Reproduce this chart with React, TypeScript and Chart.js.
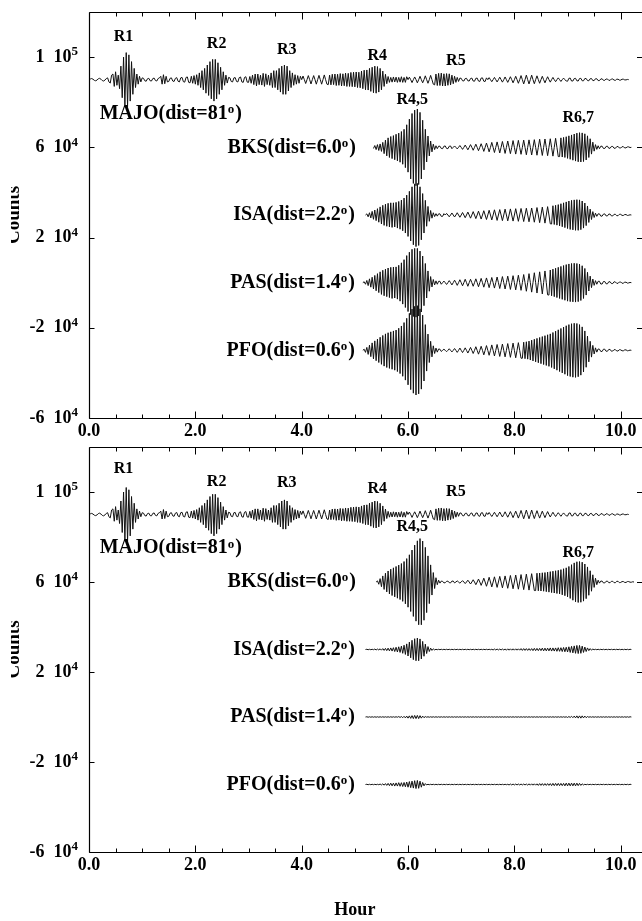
import React, { useEffect, useRef } from "react";
import { Chart, registerables } from "chart.js";
import type { Plugin, ChartConfiguration } from "chart.js";

Chart.register(...registerables);

// ---------- axes ----------
const SAMPLE_STEP_H = 0.025; // hours between samples
const X_MIN = 0;
const X_MAX = 10.4;
const Y_MIN = -60000;
const Y_MAX = 120000;
const X_TICKS = [0, 2, 4, 6, 8, 10];
const Y_TICKS = [-60000, -20000, 20000, 60000, 100000];
const Y_TICK_MANT = ["-6", "-2", "2", "6", "1"];
const Y_TICK_EXP = ["4", "4", "4", "4", "5"];

// ---------- stations ----------
const STATIONS = ["MAJO", "BKS", "ISA", "PAS", "PFO"];
const DISTANCES = ["81", "6.0", "2.2", "1.4", "0.6"];
const BASELINES = [90000, 60000, 30000, 0, -30000]; // counts
const STATION_LABEL_X = [0.2, 5.02, 5.0, 5.0, 5.0]; // hours
const STATION_LABEL_Y = [75000, 60000, 30000, 0, -30000]; // counts

// ---------- phase labels ----------
const PHASES = ["R1", "R2", "R3", "R4", "R5", "R4,5", "R6,7"];
const PHASE_X = [0.65, 2.4, 3.72, 5.42, 6.9, 6.08, 9.2];
const PHASE_Y_TOP = [109000, 106000, 103000, 100500, 98500, 81000, 73000];
const PHASE_Y_BOTTOM = [110500, 104500, 104000, 101300, 100000, 84500, 73000];

// ---------- traces (thousand counts around each baseline, one row = 0.5 h) ----------
const MAJO_START = 0;
const MAJO = [
  0, 0.3, 0.5, 0.2, -0.3, -0.5, -0.2, 0.4, 0.6, 0.2, -0.4, -0.6, -0.2, 0.5, 0.8, -1, -1.5, 2, 2.5, -3,
  3.5, -2.5, 2, -4, 6, -8, 10, -11.5, 12, -12, 11, -9.5, 8, -6.5, 5, -3.5, 2.5, -2, 1.5, -1,
  0.8, 0.6, -0.5, -0.7, 0.4, 0.6, -0.5, -0.6, 0.5, 0.7, -0.4, -0.6, 0.5, 0.8, 1.5, -2, 2.2, -1.8, 1.5, -1,
  -0.8, 0.6, 0.8, -0.6, -0.8, 0.6, 0.9, -0.7, -1, 0.8, 1, -0.9, -1.1, 1, 1.2, -1.2, -1.4, 1.5, -1.6, 1.8,
  -2, 2.2, -2.5, 3, -3.5, 4, -4.5, 5, -6, 6.5, -7, 8, -8.5, 9, -9.5, 9, -8.5, 7.5, -6.5, 5.5,
  -4.5, 3.5, -2.5, 2, -1.5, 1, 0.8, -0.8, -1, 0.8, 0.9, -0.8, -1, 0.9, 1.2, -1, -1.2, 1, 1.3, -1.1,
  -1.2, 1.4, -1.6, 2, -2.2, 2.5, -2.8, 2.5, -2.2, 2, -2.4, 2.8, -3, 2.6, -2.2, 2, -2.5, 3, -3.5, 4,
  -3.5, 4, -4.5, 5, -5.5, 6, -6.5, 6.5, -6.5, 6, -5, 4, -3.5, 3, -2.5, 2.2, -2, 1.8, -1.6, 1.5,
  0, 1.6, 0, -1.7, 0, 1.8, 0, -1.9, 0, 1.8, 0, -2, 0, 1.9, 0, -2, 0, 2.1, 0, -2,
  -2.2, 2, -2.3, 2.4, -2.2, 2.5, -2.6, 2.4, -2.5, 2.7, -2.8, 2.6, -2.7, 2.9, -3, 2.8, -3, 3.2, -3.1, 3.3,
  -3.2, 3.4, -3.5, 3.3, -3.6, 3.8, -4, 4.2, -4.5, 4.3, -4.6, 5, -5.2, 5.5, -5.8, 6, -6, 5.8, -5.5, 5,
  -4.5, 3.8, -3, 2.4, -1.8, 1.4, -1.2, 1, -1.1, 1.2, -1, 1.1, -1.2, 1, -1.1, 1.3, -1.2, 1, -1.2, 1.3,
  0, 1.1, 0, -1.3, 0, 1.2, 0, -1.4, 0, 1.5, 0, -1.4, 0, 1.7, 0, -1.6, 0, 1.9, 0, -2,
  -2.3, 2.5, -2.6, 2.8, -2.6, 2.9, -2.8, 2.6, -2.8, 2.7, -2.5, 2.6, -2.3, 2, -1.8, 1.5, -1.2, 1, -0.8, 0.7,
  0.6, -0.5, -0.6, 0.5, 0.6, -0.5, -0.6, 0.5, 0.7, -0.6, -0.7, 0.6, 0.7, -0.6, -0.8, 0.7, 0.8, -0.7, -0.8, 0.8,
  0, 0.9, 0, -0.9, 0, 1, 0, -1, 0, 1.1, 0, -1.1, 0, 1.2, 0, -1.2, 0, 1.3, 0, -1.4,
  0, 1.5, 0, -1.6, 0, 1.8, 0, -1.9, 0, 2, 0, -1.9, 0, 2, 0, -1.8, 0, 1.7, 0, -1.6,
  0, 1.5, 0, -1.4, 0, 1.3, 0, -1.1, 0, 1, 0, -0.9, 0, 0.8, 0, -0.8, 0, 0.7, 0, -0.6,
  -0.7, 0.6, 0.7, -0.6, -0.6, 0.5, 0.6, -0.5, -0.6, 0.5, 0.6, -0.5, -0.5, 0.5, 0.5, -0.4, -0.5, 0.4, 0.5, -0.4,
  -0.4, 0.4, 0.4, -0.4, -0.4, 0.3, 0.4, -0.3, -0.3, 0.3, 0.3, -0.3, -0.3, 0.3, 0.3, -0.2, -0.3, 0.2, 0.2, -0.2,
  -0.2, 0.2, 0.2, -0.1, -0.1, 0.1, 0,
];

const BKS_TOP_START = 5.35;
const BKS_TOP = [
  -0.5, 0.8, -1, 1.2, -1.4, 1.5, -1.8, 2.2, -2.8, 3.2, -3.8, 4.2, -4.5, 4.8, -5, 5.2, -5.5, 5.8, -6, 6.3,
  -6.6, 7, -7.5, 8, -9, 10, -11, 12.5, -14, 15, -16, 16.5, -17, 17, -16.5, 15.5, -14, 12, -10, 8,
  -6.5, 5, -3.8, 2.8, -2, 1.4, -1, 0.7, -0.6, 0.5, 0.5, -0.5, -0.6, 0.5, 0.6, -0.5, -0.6, 0.5, 0.6, -0.6,
  0, 0.6, 0, -0.7, 0, 0.8, 0, -0.9, 0, 1, 0, -1.1, 0, 1.2, 0, -1.3, 0, 1.4, 0, -1.5,
  0, 1.6, 0, -1.8, 0, 1.9, 0, -2, 0, 2.2, 0, -2.3, 0, 2.4, 0, -2.5, 0, 2.6, 0, -2.7,
  0, 2.8, 0, -2.8, 0, 3, 0, -3, 0, 3.1, 0, -3.1, 0, 3.2, 0, -3.3, 0, 3.3, 0, -3.4,
  0, 3.4, 0, -3.5, 0, 3.6, 0, -3.6, 0, 3.7, 0, -3.7, 0, 3.8, 0, -3.9, 0, 4, 0, -4.1,
  -4.1, 4.2, -4.3, 4.4, -4.5, 4.7, -4.9, 5.1, -5.3, 5.5, -5.7, 5.9, -6.1, 6.3, -6.4, 6.5, -6.5, 6.4, -6.3, 6,
  -5.6, 5.1, -4.5, 3.8, -3, 2.3, -1.7, 1.2, -0.9, 0.7, -0.6, 0.5, 0.5, -0.5, -0.5, 0.4, 0.5, -0.4, -0.4, 0.4,
  0.4, -0.4, -0.4, 0.3, 0.4, -0.3, -0.3, 0.3, 0.3, -0.3, -0.2, 0.2, 0.2, -0.1, 0,
];

const ISA_TOP_START = 5.2;
const ISA_TOP = [
  0, 0.5, -0.8, 1, -1.3, 1.6, -1.9, 2.2, -2.5, 2.8, -3.2, 3.6, -4, 4.3, -4.6, 4.8, -5, 5.2, -5.3, 5.4,
  -5.5, 5.4, -5.3, 5.6, -5.8, 6, -6.3, 6.6, -7, 7.5, -8, 8.8, -9.5, 10.5, -11.5, 12.5, -13.2, 13.8, -14, 14,
  -13.5, 12.5, -11, 9.5, -8, 6.5, -5, 3.8, -2.8, 2, -1.4, 1, -0.7, 0.6, -0.5, 0.5, 0.5, -0.6, -0.6, 0.6,
  0, 0.7, 0, -0.8, 0, 0.9, 0, -0.9, 0, 1, 0, -1, 0, 1.1, 0, -1.2, 0, 1.3, 0, -1.4,
  0, 1.5, 0, -1.6, 0, 1.7, 0, -1.8, 0, 1.9, 0, -2, 0, 2.1, 0, -2.2, 0, 2.3, 0, -2.4,
  0, 2.4, 0, -2.5, 0, 2.6, 0, -2.6, 0, 2.7, 0, -2.7, 0, 2.8, 0, -2.8, 0, 2.9, 0, -2.9,
  0, 3, 0, -3, 0, 3.1, 0, -3.2, 0, 3.3, 0, -3.4, 0, 3.5, 0, -3.6, 0, 3.7, 0, -3.9,
  -4, 4.1, -4.2, 4.3, -4.5, 4.6, -4.8, 5, -5.2, 5.4, -5.6, 5.8, -6, 6.2, -6.4, 6.5, -6.6, 6.7, -6.8, 6.8,
  -6.8, 6.7, -6.5, 6.2, -5.8, 5.3, -4.7, 4, -3.3, 2.6, -2, 1.5, -1.1, 0.8, -0.6, 0.5, 0.5, -0.5, -0.5, 0.4,
  0.5, -0.4, -0.4, 0.4, 0.4, -0.4, -0.4, 0.3, 0.3, -0.3, -0.3, 0.3, 0.3, -0.2, -0.2, 0.2, 0.2, -0.2, -0.1, 0.1,
  0,
];

const PAS_TOP_START = 5.15;
const PAS_TOP = [
  0, 0.4, -0.7, 1, -1.3, 1.7, -2, 2.4, -2.8, 3.2, -3.6, 4, -4.4, 4.8, -5.2, 5.5, -5.8, 6, -6.2, 6.5,
  -6.6, 6.8, -7, 6.9, -6.8, 7, -7.3, 7.7, -8.2, 8.8, -9.5, 10.2, -11, 12, -12.8, 13.5, -14.2, 14.8, -15, 15.2,
  -15.3, 15.2, -14.8, 14, -13, 11.8, -10.2, 8.5, -6.8, 5.2, -3.8, 2.7, -1.9, 1.4, -1, 0.8, -0.7, 0.6, 0.6, -0.7,
  0, 0.7, 0, -0.8, 0, 0.9, 0, -1, 0, 1.1, 0, -1.2, 0, 1.3, 0, -1.4, 0, 1.5, 0, -1.6,
  0, 1.5, 0, -1.6, 0, 1.7, 0, -1.8, 0, 1.9, 0, -2, 0, 2.1, 0, -2.2, 0, 2.3, 0, -2.4,
  0, 2.5, 0, -2.6, 0, 2.7, 0, -2.8, 0, 2.9, 0, -3, 0, 3.1, 0, -3.2, 0, 3.3, 0, -3.4,
  0, 3.6, 0, -3.8, 0, 4, 0, -4.2, 0, 4.4, 0, -4.6, 0, 4.8, 0, -5, 0, 5.2, 0, -5.4,
  -5.5, 5.6, -5.8, 6, -6.2, 6.4, -6.6, 6.8, -7, 7.2, -7.4, 7.6, -7.8, 8, -8.2, 8.3, -8.4, 8.5, -8.5, 8.6,
  -8.6, 8.5, -8.4, 8.2, -7.9, 7.5, -7, 6.3, -5.5, 4.6, -3.7, 2.9, -2.2, 1.6, -1.2, 0.9, -0.7, 0.6, 0.6, -0.6,
  -0.6, 0.5, 0.5, -0.5, -0.5, 0.4, 0.4, -0.4, -0.4, 0.4, 0.3, -0.3, -0.3, 0.3, 0.3, -0.3, -0.2, 0.2, 0.2, -0.2,
  -0.1, 0.1, 0,
];

const PFO_TOP_START = 5.15;
const PFO_TOP = [
  0, 0.5, -0.9, 1.3, -1.8, 2.3, -2.8, 3.3, -3.8, 4.2, -4.6, 5, -5.4, 5.8, -6.2, 6.6, -7, 7.3, -7.6, 7.8,
  -8, 8.2, -8.4, 8.6, -8.8, 9, -9.4, 9.8, -10.3, 10.8, -11.5, 12.3, -13.2, 14.2, -15.3, 16.4, -17.4, 18.3, -19, 19.5,
  -19.8, 19.8, -19.3, 18.4, -17.2, 15.6, -13.6, 11.4, -9.2, 7.2, -5.4, 4, -2.9, 2, -1.4, 1, -0.8, 0.6, 0.5, -0.5,
  0, 0.5, 0, -0.6, 0, 0.7, 0, -0.7, 0, 0.8, 0, -0.9, 0, 1, 0, -1, 0, 1.1, 0, -1.2,
  0, 1.3, 0, -1.4, 0, 1.6, 0, -1.7, 0, 1.8, 0, -2, 0, 2.1, 0, -2.2, 0, 2.4, 0, -2.5,
  0, 2.6, 0, -2.7, 0, 2.8, 0, -2.9, 0, 3, 0, -3.1, 0, 3.2, 0, -3.3, 0, 3.4, 0, -3.5,
  -3.5, 3.6, -3.7, 3.8, -3.9, 4.1, -4.3, 4.5, -4.7, 4.9, -5.1, 5.3, -5.5, 5.7, -5.9, 6.1, -6.3, 6.5, -6.7, 6.9,
  -7.1, 7.3, -7.6, 7.9, -8.2, 8.5, -8.8, 9.1, -9.4, 9.7, -10, 10.3, -10.6, 10.9, -11.2, 11.4, -11.6, 11.8, -11.9, 12,
  -12, 11.9, -11.7, 11.4, -11, 10.4, -9.6, 8.6, -7.5, 6.3, -5.1, 4, -3, 2.2, -1.6, 1.1, -0.8, 0.6, 0.5, -0.5,
  -0.5, 0.5, 0.5, -0.4, -0.4, 0.4, 0.4, -0.4, -0.3, 0.3, 0.3, -0.3, -0.3, 0.3, 0.2, -0.2, -0.2, 0.2, 0.2, -0.2,
  -0.1, 0.1, 0,
];

const BKS_BOT_START = 5.4;
const BKS_BOT = [
  0, 0.5, -1, 1.5, -2.1, 2.7, -3.3, 3.9, -4.4, 4.9, -5.3, 5.7, -6, 6.3, -6.6, 6.9, -7.2, 7.5, -7.8, 8.2,
  -8.6, 9.1, -9.7, 10.4, -11.2, 12.1, -13.1, 14.2, -15.3, 16.4, -17.4, 18.3, -19, 19.3, -19, 18.2, -17, 15.4, -13.6, 11.6,
  -9.6, 7.6, -5.8, 4.2, -2.9, 1.9, -1.2, 0.8, -0.5, 0.4, 0.3, -0.4, -0.3, 0.3, 0.4, -0.3, -0.4, 0.4, 0.4, -0.4,
  0, 0.5, 0, -0.5, 0, 0.6, 0, -0.7, 0, 0.8, 0, -0.9, 0, 1, 0, -1.2, 0, 1.3, 0, -1.5,
  0, 1.7, 0, -1.9, 0, 2.1, 0, -2.2, 0, 2.3, 0, -2.4, 0, 2.5, 0, -2.6, 0, 2.7, 0, -2.8,
  0, 2.9, 0, -3, 0, 3.1, 0, -3.2, 0, 3.3, 0, -3.4, 0, 3.5, 0, -3.6, 0, 3.7, 0, -3.8,
  -3.8, 3.9, -3.9, 4, -4, 4.1, -4.1, 4.2, -4.3, 4.4, -4.5, 4.6, -4.7, 4.8, -4.9, 5, -5.1, 5.2, -5.3, 5.5,
  -5.7, 5.9, -6.1, 6.3, -6.6, 6.9, -7.3, 7.7, -8.1, 8.5, -8.8, 9, -9.1, 9.1, -9, 8.8, -8.5, 8, -7.4, 6.7,
  -5.9, 5, -4.1, 3.2, -2.4, 1.7, -1.2, 0.8, -0.5, 0.4, 0.4, -0.4, -0.4, 0.3, 0.4, -0.3, -0.3, 0.3, 0.3, -0.3,
  -0.3, 0.3, 0.3, -0.3, -0.2, 0.2, 0.2, -0.2, -0.2, 0.2, 0.2, -0.1, -0.1, 0.1, 0,
];

const ISA_BOT_START = 5.2;
const ISA_BOT = [
  0, 0.1, -0.1, 0.1, -0.1, 0.1, -0.1, 0.2, -0.2, 0.2, -0.2, 0.3, -0.3, 0.4, -0.4, 0.5, -0.5, 0.6, -0.6, 0.7,
  -0.7, 0.8, -0.9, 1, -1.1, 1.2, -1.3, 1.5, -1.7, 1.9, -2.2, 2.5, -2.9, 3.3, -3.7, 4.1, -4.5, 4.8, -5, 5.1,
  -5, 4.7, -4.2, 3.6, -3, 2.4, -1.8, 1.3, -0.9, 0.6, -0.4, 0.3, -0.2, 0.1, -0.1, 0.1, -0.1, 0.1, -0.1, 0.1,
  -0.1, 0.1, -0.1, 0.1, -0.1, 0.1, -0.1, 0.1, -0.1, 0.1, -0.1, 0.1, -0.1, 0.1, -0.1, 0.1, -0.1, 0.1, -0.1, 0.1,
  -0.1, 0.1, -0.1, 0.1, -0.1, 0.1, -0.1, 0.1, -0.1, 0.1, -0.1, 0.1, -0.1, 0.1, -0.1, 0.1, -0.2, 0.2, -0.2, 0.2,
  -0.2, 0.2, -0.2, 0.2, -0.2, 0.2, -0.3, 0.3, -0.3, 0.3, -0.3, 0.3, -0.3, 0.3, -0.3, 0.3, -0.3, 0.4, -0.4, 0.4,
  -0.4, 0.4, -0.4, 0.4, -0.4, 0.4, -0.5, 0.5, -0.5, 0.5, -0.5, 0.5, -0.5, 0.6, -0.6, 0.6, -0.6, 0.6, -0.6, 0.7,
  -0.7, 0.7, -0.7, 0.7, -0.8, 0.8, -0.8, 0.8, -0.9, 0.9, -1, 1, -1.1, 1.2, -1.3, 1.4, -1.5, 1.6, -1.7, 1.8,
  -1.8, 1.8, -1.7, 1.5, -1.3, 1.1, -0.9, 0.7, -0.5, 0.4, -0.3, 0.2, -0.1, 0.1, -0.1, 0.1, -0.1, 0.1, -0.1, 0.1,
  -0.1, 0.1, -0.1, 0.1, -0.1, 0.1, -0.1, 0.1, -0.1, 0.1, -0.1, 0.1, -0.1, 0.1, -0.1, 0.1, -0.1, 0.1, -0.1, 0.1,
  0,
];

const PAS_BOT_START = 5.2;
const PAS_BOT = [
  0, 0.1, -0.1, 0.1, -0.1, 0.1, -0.1, 0.1, -0.1, 0.1, -0.1, 0.1, -0.1, 0.1, -0.1, 0.1, -0.1, 0.1, -0.1, 0.1,
  -0.1, 0.1, -0.1, 0.1, -0.1, 0.2, -0.2, 0.2, -0.3, 0.3, -0.4, 0.4, -0.5, 0.5, -0.6, 0.6, -0.7, 0.7, -0.7, 0.7,
  -0.7, 0.6, -0.5, 0.4, -0.3, 0.2, -0.1, 0.1, -0.1, 0.1, -0.1, 0.1, -0.1, 0.1, -0.1, 0.1, -0.1, 0.1, -0.1, 0.1,
  -0.1, 0.1, -0.1, 0.1, -0.1, 0.1, -0.1, 0.1, -0.1, 0.1, -0.1, 0.1, -0.1, 0.1, -0.1, 0.1, -0.1, 0.1, -0.1, 0.1,
  -0.1, 0.1, -0.1, 0.1, -0.1, 0.1, -0.1, 0.1, -0.1, 0.1, -0.1, 0.1, -0.1, 0.1, -0.1, 0.1, -0.1, 0.1, -0.1, 0.1,
  -0.1, 0.1, -0.1, 0.1, -0.1, 0.1, -0.1, 0.1, -0.1, 0.1, -0.1, 0.1, -0.1, 0.1, -0.1, 0.1, -0.1, 0.1, -0.1, 0.1,
  -0.1, 0.1, -0.1, 0.1, -0.1, 0.1, -0.1, 0.1, -0.1, 0.1, -0.1, 0.1, -0.1, 0.1, -0.1, 0.1, -0.1, 0.1, -0.1, 0.1,
  -0.1, 0.1, -0.1, 0.1, -0.1, 0.1, -0.1, 0.1, -0.1, 0.1, -0.1, 0.1, -0.2, 0.2, -0.2, 0.3, -0.3, 0.4, -0.4, 0.5,
  -0.5, 0.5, -0.5, 0.5, -0.4, 0.4, -0.3, 0.2, -0.1, 0.1, -0.1, 0.1, -0.1, 0.1, -0.1, 0.1, -0.1, 0.1, -0.1, 0.1,
  -0.1, 0.1, -0.1, 0.1, -0.1, 0.1, -0.1, 0.1, -0.1, 0.1, -0.1, 0.1, -0.1, 0.1, -0.1, 0.1, -0.1, 0.1, -0.1, 0.1,
  0,
];

const PFO_BOT_START = 5.2;
const PFO_BOT = [
  0, 0.1, -0.1, 0.1, -0.1, 0.1, -0.1, 0.1, -0.1, 0.1, -0.1, 0.2, -0.2, 0.3, -0.3, 0.4, -0.4, 0.5, -0.5, 0.6,
  -0.6, 0.6, -0.7, 0.7, -0.7, 0.8, -0.8, 0.8, -0.9, 0.9, -1, 1.1, -1.2, 1.3, -1.4, 1.5, -1.6, 1.7, -1.8, 1.8,
  -1.7, 1.5, -1.2, 0.9, -0.6, 0.4, -0.2, 0.1, -0.1, 0.1, -0.1, 0.1, -0.1, 0.1, -0.1, 0.1, -0.1, 0.1, -0.1, 0.1,
  -0.1, 0.1, -0.1, 0.1, -0.1, 0.1, -0.1, 0.1, -0.1, 0.1, -0.1, 0.1, -0.1, 0.1, -0.1, 0.1, -0.1, 0.1, -0.1, 0.1,
  -0.1, 0.1, -0.1, 0.1, -0.1, 0.1, -0.1, 0.1, -0.1, 0.1, -0.1, 0.1, -0.1, 0.1, -0.1, 0.1, -0.1, 0.1, -0.1, 0.1,
  -0.1, 0.1, -0.1, 0.1, -0.1, 0.1, -0.1, 0.1, -0.2, 0.2, -0.2, 0.2, -0.2, 0.2, -0.2, 0.2, -0.2, 0.2, -0.2, 0.2,
  -0.2, 0.2, -0.3, 0.3, -0.3, 0.3, -0.3, 0.3, -0.3, 0.3, -0.4, 0.4, -0.4, 0.4, -0.4, 0.4, -0.4, 0.4, -0.4, 0.4,
  -0.5, 0.5, -0.5, 0.5, -0.5, 0.5, -0.5, 0.5, -0.5, 0.5, -0.6, 0.6, -0.6, 0.6, -0.6, 0.6, -0.6, 0.6, -0.6, 0.6,
  -0.5, 0.5, -0.4, 0.3, -0.2, 0.1, -0.1, 0.1, -0.1, 0.1, -0.1, 0.1, -0.1, 0.1, -0.1, 0.1, -0.1, 0.1, -0.1, 0.1,
  -0.1, 0.1, -0.1, 0.1, -0.1, 0.1, -0.1, 0.1, -0.1, 0.1, -0.1, 0.1, -0.1, 0.1, -0.1, 0.1, -0.1, 0.1, -0.1, 0.1,
  0,
];

type Trace = { start: number; values: number[]; station: number };

const TOP_TRACES: Trace[] = [
  { start: MAJO_START, values: MAJO, station: 0 },
  { start: BKS_TOP_START, values: BKS_TOP, station: 1 },
  { start: ISA_TOP_START, values: ISA_TOP, station: 2 },
  { start: PAS_TOP_START, values: PAS_TOP, station: 3 },
  { start: PFO_TOP_START, values: PFO_TOP, station: 4 },
];

const BOTTOM_TRACES: Trace[] = [
  { start: MAJO_START, values: MAJO, station: 0 },
  { start: BKS_BOT_START, values: BKS_BOT, station: 1 },
  { start: ISA_BOT_START, values: ISA_BOT, station: 2 },
  { start: PAS_BOT_START, values: PAS_BOT, station: 3 },
  { start: PFO_BOT_START, values: PFO_BOT, station: 4 },
];

// ---------- styling ----------
const FONT_FAMILY = '"Liberation Serif", "Times New Roman", serif';
const INK = "#000";
const WIDTH = 642;

function toPoints(t: Trace) {
  const base = BASELINES[t.station];
  return t.values.map((v, i) => ({
    x: Math.round((t.start + i * SAMPLE_STEP_H) * 1000) / 1000,
    y: base + v * 1000,
  }));
}

function decorPlugin(panel: "top" | "bottom"): Plugin<"line"> {
  return {
    id: "decor-" + panel,
    afterDatasetsDraw(chart) {
      const { ctx, chartArea: a } = chart;
      const xs = chart.scales.x;
      const ys = chart.scales.y;
      ctx.save();
      ctx.strokeStyle = INK;
      ctx.fillStyle = INK;
      ctx.lineWidth = 1.2;

      const L = Math.round(a.left) + 0.5;
      const T = Math.round(a.top) + 0.5;
      const B = Math.round(a.bottom) + 0.5;
      const R = a.right;

      // frame (left, top, bottom)
      ctx.beginPath();
      ctx.moveTo(L, T);
      ctx.lineTo(L, B);
      ctx.moveTo(L, T);
      ctx.lineTo(R, T);
      ctx.moveTo(L, B);
      ctx.lineTo(R, B);
      ctx.stroke();

      // inward x ticks, every half hour
      ctx.lineWidth = 1;
      ctx.beginPath();
      for (let k = 0; k * 0.5 <= X_MAX + 1e-9; k++) {
        const px = Math.round(xs.getPixelForValue(k * 0.5)) + 0.5;
        const len = k % 4 === 0 ? 7 : 4;
        ctx.moveTo(px, B);
        ctx.lineTo(px, B - len);
        ctx.moveTo(px, T);
        ctx.lineTo(px, T + len);
      }
      // inward y ticks, both sides
      for (const v of Y_TICKS) {
        const py = Math.round(ys.getPixelForValue(v)) + 0.5;
        ctx.moveTo(L, py);
        ctx.lineTo(L + 5, py);
        ctx.moveTo(R, py);
        ctx.lineTo(R - 5, py);
      }
      ctx.stroke();

      // y tick labels "m  10^e"
      const labelRight = a.left - 11;
      Y_TICKS.forEach((v, i) => {
        const py = ys.getPixelForValue(v);
        ctx.font = `bold 13px ${FONT_FAMILY}`;
        const ew = ctx.measureText(Y_TICK_EXP[i]).width;
        ctx.textAlign = "left";
        ctx.textBaseline = "middle";
        ctx.fillText(Y_TICK_EXP[i], labelRight - ew, py - 5);
        ctx.font = `bold 18px ${FONT_FAMILY}`;
        ctx.textAlign = "right";
        ctx.fillText(`${Y_TICK_MANT[i]}  10`, labelRight - ew, py);
      });

      // phase labels
      const phaseY = panel === "top" ? PHASE_Y_TOP : PHASE_Y_BOTTOM;
      ctx.font = `bold 16px ${FONT_FAMILY}`;
      ctx.textAlign = "center";
      ctx.textBaseline = "middle";
      PHASES.forEach((p, i) => {
        ctx.fillText(p, xs.getPixelForValue(PHASE_X[i]), ys.getPixelForValue(phaseY[i]));
      });

      // station labels: NAME(dist=D°)
      STATIONS.forEach((s, i) => {
        const main = `${s}(dist=${DISTANCES[i]}`;
        const big = `bold 20px ${FONT_FAMILY}`;
        const small = `bold 13px ${FONT_FAMILY}`;
        ctx.font = big;
        const w1 = ctx.measureText(main).width;
        const w3 = ctx.measureText(")").width;
        ctx.font = small;
        const w2 = ctx.measureText("o").width + 1;
        const total = w1 + w2 + w3;
        const px = xs.getPixelForValue(STATION_LABEL_X[i]);
        const py = ys.getPixelForValue(STATION_LABEL_Y[i]);
        const x0 = i === 0 ? px : px - total;
        ctx.textAlign = "left";
        ctx.textBaseline = "middle";
        ctx.font = big;
        ctx.fillText(main, x0, py);
        ctx.font = small;
        ctx.fillText("o", x0 + w1, py - 4);
        ctx.font = big;
        ctx.fillText(")", x0 + w1 + w2, py);
      });

      // y title, partly cut at the page edge as in the scan
      ctx.save();
      ctx.beginPath();
      ctx.rect(11, 0, 60, chart.height);
      ctx.clip();
      ctx.translate(19, (a.top + a.bottom) / 2);
      ctx.rotate(-Math.PI / 2);
      ctx.font = `bold 19px ${FONT_FAMILY}`;
      ctx.textAlign = "center";
      ctx.textBaseline = "alphabetic";
      ctx.fillText("Counts", 0, 0);
      ctx.restore();

      if (panel === "bottom") {
        ctx.font = `bold 18px ${FONT_FAMILY}`;
        ctx.textAlign = "center";
        ctx.textBaseline = "middle";
        ctx.fillText("Hour", xs.getPixelForValue(5.0), chart.height - 11);
      }
      ctx.restore();
    },
  };
}

function makeConfig(panel: "top" | "bottom"): ChartConfiguration<"line"> {
  const traces = panel === "top" ? TOP_TRACES : BOTTOM_TRACES;
  const xAxisHeight = panel === "top" ? 27 : 69;
  const padTop = panel === "top" ? 12 : 2;
  return {
    type: "line",
    data: {
      datasets: traces.map((t) => ({
        label: STATIONS[t.station],
        data: toPoints(t),
        borderColor: "#111",
        borderWidth: 1,
        pointRadius: 0,
        tension: 0,
        fill: false,
      })),
    },
    options: {
      animation: false,
      responsive: false,
      maintainAspectRatio: false,
      devicePixelRatio: 1,
      events: [],
      layout: { padding: { top: padTop, left: 0, right: 0, bottom: 0 } },
      plugins: { legend: { display: false }, tooltip: { enabled: false }, title: { display: false } },
      scales: {
        x: {
          type: "linear",
          min: X_MIN,
          max: X_MAX,
          grid: { display: false, drawTicks: false },
          border: { display: false },
          afterBuildTicks: (s: any) => {
            s.ticks = X_TICKS.map((v) => ({ value: v }));
          },
          afterFit: (s: any) => {
            s.height = xAxisHeight;
            s.paddingLeft = 0;
            s.paddingRight = 0;
          },
          ticks: {
            autoSkip: false,
            maxRotation: 0,
            padding: 3,
            color: INK,
            font: { family: FONT_FAMILY, size: 18, weight: "bold" },
            callback: (v: any) => Number(v).toFixed(1),
          },
        },
        y: {
          type: "linear",
          min: Y_MIN,
          max: Y_MAX,
          grid: { display: false, drawTicks: false },
          border: { display: false },
          afterBuildTicks: (s: any) => {
            s.ticks = Y_TICKS.map((v) => ({ value: v }));
          },
          afterFit: (s: any) => {
            s.width = 89;
            s.paddingTop = 0;
            s.paddingBottom = 0;
          },
          ticks: { display: false },
        },
      },
    },
    plugins: [decorPlugin(panel)],
  };
}

function Panel({ panel, top, height }: { panel: "top" | "bottom"; top: number; height: number }) {
  const ref = useRef<HTMLCanvasElement>(null);
  useEffect(() => {
    if (!ref.current) return;
    const chart = new Chart(ref.current, makeConfig(panel));
    return () => chart.destroy();
  }, [panel]);
  return (
    <canvas
      ref={ref}
      width={WIDTH}
      height={height}
      style={{ position: "absolute", left: 0, top, width: WIDTH, height, display: "block" }}
    />
  );
}

export default function App() {
  return (
    <div style={{ position: "absolute", left: 0, top: 0, width: WIDTH, height: 921, background: "#fff" }}>
      <Panel panel="top" top={0} height={445} />
      <Panel panel="bottom" top={445} height={476} />
    </div>
  );
}
